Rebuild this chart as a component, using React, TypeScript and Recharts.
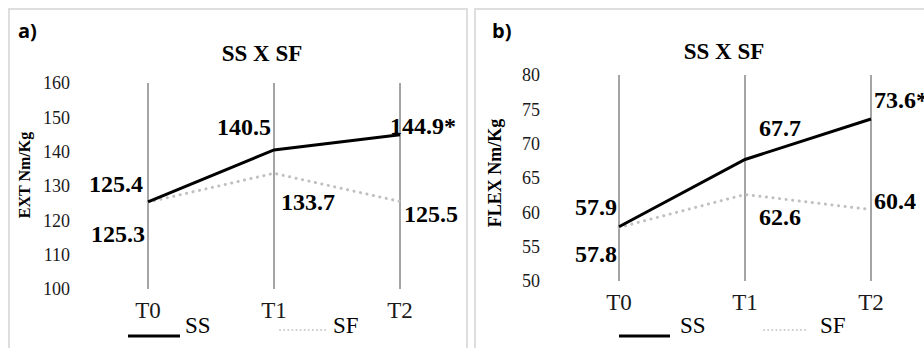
import React from 'react';
import { LineChart, Line, XAxis, YAxis, ReferenceLine, LabelList } from 'recharts';

const categories = ['T0', 'T1', 'T2'];
const extSS = [125.4, 140.5, 144.9];
const extSF = [125.3, 133.7, 125.5];
const flexSS = [57.9, 67.7, 73.6];
const flexSF = [57.8, 62.6, 60.4];
const ssMarks = ['', '', '*'];
const sfMarks = ['', '', ''];
const extTicks = [100, 110, 120, 130, 140, 150, 160];
const flexTicks = [50, 55, 60, 65, 70, 75, 80];
const seriesNames = ['SS', 'SF'];
const panelLetters = ['a)', 'b)'];
const chartTitle = 'SS X SF';
const yLabels = ['EXT Nm/Kg', 'FLEX Nm/Kg'];

const SERIF = '"Liberation Serif", "Times New Roman", serif';
const SANS = '"Open Sans", "Liberation Sans", sans-serif';

type Off = { anchor: 'start' | 'end' | 'middle'; dx: number; dy: number };

const makeLabel = (offs: Off[], marks: string[]) => (props: any) => {
  const { x, y, value, index } = props;
  if (x == null || y == null) return null;
  const o = offs[index];
  return (
    <text
      x={Number(x) + o.dx}
      y={Number(y) + o.dy + 8}
      textAnchor={o.anchor}
      fontFamily={SERIF}
      style={{ fontFamily: SERIF }}
      fontWeight="bold"
      fontSize={24}
      fill="#000"
    >
      {Number(value).toFixed(1)}
      {marks[index]}
    </text>
  );
};

type PanelProps = {
  left: number;
  ss: number[];
  sf: number[];
  ticks: number[];
  yLabel: string;
  letter: string;
  yAxisWidth: number;
  padLeft: number;
  marginTop: number;
  marginRight: number;
  marginBottom: number;
  tickMargin: number;
  titleX: number;
  titleY: number;
  letterX: number;
  yLabelX: number;
  yLabelY: number;
  yLabelSize: number;
  legend: { solid: [number, number]; ssX: number; dotted: [number, number]; sfX: number };
  ssOffs: Off[];
  sfOffs: Off[];
};

const W = 456;
const H = 346;

function Panel(p: PanelProps) {
  const data = categories.map((c, i) => ({ t: c, ss: p.ss[i], sf: p.sf[i] }));
  return (
    <div
      style={{
        position: 'absolute',
        left: p.left,
        top: 8,
        width: W + 4,
        height: H + 4,
        border: '2px solid #dedede',
        boxSizing: 'border-box',
        background: '#fff',
        fontFamily: SERIF,
      }}
    >
      <div style={{ position: 'absolute', left: 0, top: 0, fontFamily: SERIF }}>
        <LineChart
          width={W}
          height={H}
          data={data}
          style={{ fontFamily: SERIF }}
          margin={{ top: p.marginTop, right: p.marginRight, bottom: p.marginBottom, left: 0 }}
        >
          <XAxis
            dataKey="t"
            axisLine={false}
            tickLine={false}
            tickSize={0}
            tickMargin={p.tickMargin}
            interval={0}
            height={40}
            padding={{ left: p.padLeft, right: 40 }}
            tick={{ fontSize: 23, fill: '#1a1a1a', fontFamily: SERIF }}
          />
          <YAxis
            width={p.yAxisWidth}
            domain={[p.ticks[0], p.ticks[p.ticks.length - 1]]}
            ticks={p.ticks}
            interval={0}
            axisLine={false}
            tickLine={false}
            tickSize={0}
            tickMargin={0}
            tick={{ fontSize: 18, fill: '#1a1a1a', fontFamily: SERIF }}
          />
          {categories.map((c) => (
            <ReferenceLine key={c} x={c} stroke="#4a4a4a" strokeWidth={1} />
          ))}
          <Line
            dataKey="sf"
            name={seriesNames[1]}
            stroke="#c0c0c0"
            strokeWidth={3}
            strokeDasharray="0.1 6.5"
            strokeLinecap="round"
            dot={false}
            activeDot={false}
            isAnimationActive={false}
          >
            <LabelList dataKey="sf" content={makeLabel(p.sfOffs, sfMarks)} />
          </Line>
          <Line
            dataKey="ss"
            name={seriesNames[0]}
            stroke="#000"
            strokeWidth={3}
            dot={false}
            activeDot={false}
            isAnimationActive={false}
          >
            <LabelList dataKey="ss" content={makeLabel(p.ssOffs, ssMarks)} />
          </Line>
        </LineChart>
      </div>
      <svg
        width={W}
        height={H}
        style={{ position: 'absolute', left: 0, top: 0, pointerEvents: 'none' }}
      >
        <text x={p.letterX} y={28} fontFamily={SANS} style={{ fontFamily: SANS }} fontWeight="bold" fontSize={20} fill="#000">
          {p.letter}
        </text>
        <text
          x={p.titleX}
          y={p.titleY + 8}
          textAnchor="middle"
          fontFamily={SERIF}
          fontWeight="bold"
          fontSize={23}
          fill="#000"
        >
          {chartTitle}
        </text>
        <text
          x={p.yLabelX + p.yLabelSize * 0.33}
          y={p.yLabelY}
          transform={`rotate(-90 ${p.yLabelX + p.yLabelSize * 0.33} ${p.yLabelY})`}
          textAnchor="middle"
          fontFamily={SERIF}
          fontWeight="bold"
          fontSize={p.yLabelSize}
          fill="#000"
        >
          {p.yLabel}
        </text>
        <line x1={p.legend.solid[0]} x2={p.legend.solid[1]} y1={326} y2={326} stroke="#000" strokeWidth={3} />
        <text x={p.legend.ssX} y={323} fontFamily={SERIF} fontSize={23} fill="#000">
          {seriesNames[0]}
        </text>
        <line
          x1={p.legend.dotted[0]}
          x2={p.legend.dotted[1]}
          y1={320}
          y2={320}
          stroke="#cccccc"
          strokeWidth={2}
          strokeDasharray="0.1 4"
          strokeLinecap="round"
        />
        <text x={p.legend.sfX} y={323} fontFamily={SERIF} fontSize={23} fill="#000">
          {seriesNames[1]}
        </text>
      </svg>
    </div>
  );
}

export default function App() {
  return (
    <div
      style={{
        position: 'fixed',
        left: 0,
        top: 0,
        width: 924,
        height: 348,
        overflow: 'hidden',
        background: '#fff',
      }}
    >
      <Panel
        left={8}
        ss={extSS}
        sf={extSF}
        ticks={extTicks}
        yLabel={yLabels[0]}
        letter={panelLetters[0]}
        yAxisWidth={60}
        padLeft={78}
        marginTop={73}
        marginRight={26}
        marginBottom={27}
        tickMargin={13}
        titleX={252}
        titleY={43}
        letterX={8}
        yLabelX={15}
        yLabelY={165}
        yLabelSize={16}
        legend={{ solid: [118, 170], ssX: 175, dotted: [270, 318], sfX: 323 }}
        ssOffs={[
          { anchor: 'end', dx: -5, dy: -18 },
          { anchor: 'end', dx: -3, dy: -23 },
          { anchor: 'start', dx: -10, dy: -9 },
        ]}
        sfOffs={[
          { anchor: 'end', dx: -3, dy: 32 },
          { anchor: 'start', dx: 7, dy: 29 },
          { anchor: 'start', dx: 4, dy: 12.5 },
        ]}
      />
      <Panel
        left={474}
        ss={flexSS}
        sf={flexSF}
        ticks={flexTicks}
        yLabel={yLabels[1]}
        letter={panelLetters[1]}
        yAxisWidth={64}
        padLeft={79}
        marginTop={65}
        marginRight={21}
        marginBottom={35}
        tickMargin={13}
        titleX={248}
        titleY={41}
        letterX={16}
        yLabelX={19}
        yLabelY={163}
        yLabelSize={18}
        legend={{ solid: [143, 194], ssX: 204, dotted: [288, 333], sfX: 344 }}
        ssOffs={[
          { anchor: 'end', dx: -2, dy: -20 },
          { anchor: 'start', dx: 14, dy: -31.5 },
          { anchor: 'start', dx: 3, dy: -19 },
        ]}
        sfOffs={[
          { anchor: 'end', dx: -2, dy: 27 },
          { anchor: 'start', dx: 14, dy: 22.5 },
          { anchor: 'start', dx: 3, dy: -9 },
        ]}
      />
    </div>
  );
}
